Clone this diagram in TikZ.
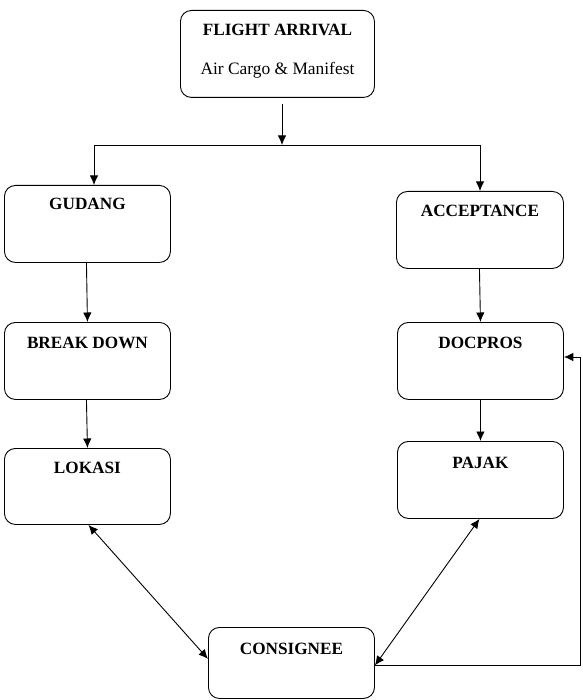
\documentclass[tikz,border=0pt]{standalone}
\usepackage{fontspec}
\setmainfont{Liberation Serif}
\usetikzlibrary{arrows.meta}
\begin{document}
\begin{tikzpicture}[x=1pt,y=-1pt,
  box/.style={draw, line width=0.9pt, rounded corners=11pt, anchor=north west,
    minimum width=166pt, minimum height=77pt, inner sep=0pt},
  ttl/.style={anchor=base, font=\fontsize{17.2}{19}\selectfont\bfseries, inner sep=0pt},
  sub/.style={anchor=base, font=\fontsize{17.4}{19}\selectfont, inner sep=0pt},
  conn/.style={line width=0.9pt, -{Latex[length=9.5pt,width=8.5pt]}},
  dconn/.style={line width=0.9pt, {Latex[length=9.5pt,width=8.5pt]}-{Latex[length=9.5pt,width=8.5pt]}},
  plain/.style={line width=0.9pt}]
\useasboundingbox (0,0) rectangle (582,700);
% boxes
\node[box, minimum width=194pt, minimum height=87pt] (flight) at (180,10) {};
\node[ttl] (flightT) at ([yshift=-26pt]flight.north) {FLIGHT ARRIVAL};
\node[sub] (flightS) at ([yshift=-65pt]flight.north) {Air Cargo \& Manifest};

\node[box] (gudang) at (4,185) {};
\node[ttl] (gudangT) at ([yshift=-25pt]gudang.north) {GUDANG};

\node[box, minimum width=167pt] (accept) at (396,191) {};
\node[ttl] (acceptT) at ([yshift=-26pt]accept.north) {ACCEPTANCE};

\node[box] (breakdown) at (4,322) {};
\node[ttl] (breakdownT) at ([yshift=-26pt]breakdown.north) {BREAK DOWN};

\node[box] (docpros) at (397,322) {};
\node[ttl] (docprosT) at ([yshift=-26pt]docpros.north) {DOCPROS};

\node[box, minimum height=76pt] (lokasi) at (4,448) {};
\node[ttl] (lokasiT) at ([yshift=-25pt]lokasi.north) {LOKASI};

\node[box] (pajak) at (397,441) {};
\node[ttl] (pajakT) at ([yshift=-27pt]pajak.north) {PAJAK};

\node[box, minimum height=71pt] (consignee) at (208,627) {};
\node[ttl] (consigneeT) at ([yshift=-27pt]consignee.north) {CONSIGNEE};

% connectors
\coordinate (split) at (282,145);
\coordinate (splitL) at (94,145);
\coordinate (splitR) at (480,145);
\coordinate (fbB) at (580,665);
\coordinate (fbT) at (580,357);

\draw[conn] ([yshift=-6pt]flight.south -| split) -- (split);
\draw[plain] (splitL) -- (splitR);
\draw[conn] (splitL) -- (splitL |- gudang.north);
\draw[conn] (splitR) -- (splitR |- accept.north);

\draw[conn] ([xshift=-1pt]gudang.south) -- (breakdown.north);
\draw[conn] ([xshift=-1pt]breakdown.south) -- (lokasi.north);
\draw[conn] ([xshift=-0.5pt]accept.south) -- (docpros.north);
\draw[conn] (docpros.south) -- (pajak.north);

\draw[dconn] ([xshift=1pt]lokasi.south) -- ([yshift=4pt]consignee.west);
\draw[dconn] ([xshift=-1pt]pajak.south) -- ([yshift=-2.5pt]consignee.east);
\draw[conn] (consignee.east |- fbB) -- (fbB) -- (fbT) -- (docpros.east |- fbT);
\end{tikzpicture}
\end{document}
